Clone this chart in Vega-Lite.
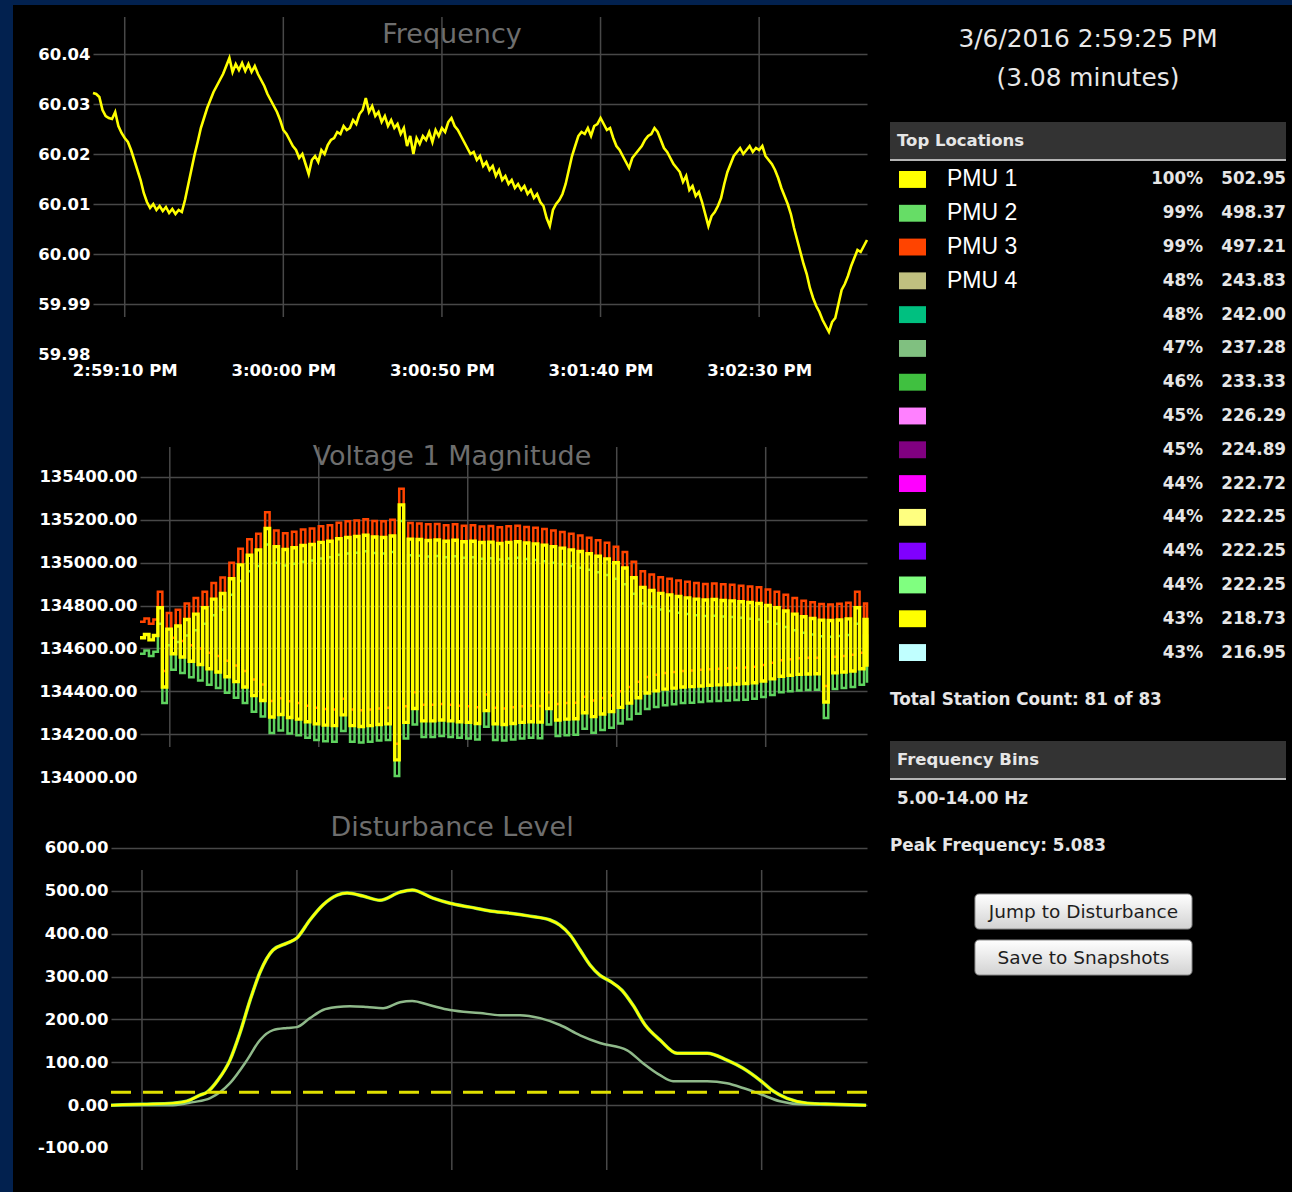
{
  "$schema": "https://vega.github.io/schema/vega-lite/v6.json",
  "background": "#000000",
  "padding": 0,
  "spacing": 0,
  "config": {
    "view": {"stroke": null},
    "axis": {"labelColor": "#ffffff", "labelFont": "DejaVu Sans", "labelFontSize": 16.5, "labelFontWeight": "bold", "domain": false, "ticks": false, "tickSize": 0, "gridColor": "#484848", "gridWidth": 1.5, "labelFlush": false, "labelOverlap": false},
    "title": {"color": "#6e6e6e", "font": "DejaVu Sans", "fontSize": 27, "fontWeight": "normal", "anchor": "middle", "frame": "group"}
  },
  "vconcat": [
    {"width": 1292, "height": 5, "view": {"fill": "#02214f"}, "data": {"values": [{}]}, "mark": {"type": "rect", "color": "#02214f"}, "encoding": {}},
    {"spacing": 0, "hconcat": [
      {"width": 13, "height": 1187, "view": {"fill": "#02214f"}, "data": {"values": [{}]}, "mark": {"type": "rect", "color": "#02214f"}, "encoding": {}},
      {"spacing": 15, "hconcat": [
        {"spacing": 0, "vconcat": [
          {"spacing": 0, "hconcat": [
          {"width": 17, "height": 1, "data": {"values": [{}]}, "mark": {"type": "rect", "color": "#000000"}, "encoding": {}},
          {"width": 774, "height": 395,
           "title": {"text": "Frequency", "offset": -44, "dx": -28},
           "layer": [
             {"data": {"values": [{"s": 10}, {"s": 60}, {"s": 110}, {"s": 160}, {"s": 210}]},
              "mark": {"type": "rule", "color": "#484848", "strokeWidth": 1.5},
              "encoding": {
                "x": {"field": "s", "type": "quantitative", "title": null, "scale": {"domain": [0, 244], "nice": false, "zero": false},
                      "axis": {"values": [10, 60, 110, 160, 210], "labelExpr": "timeFormat(datetime(2016, 2, 6, 14, 59, datum.value), '%-I:%M:%S %p')", "grid": false, "offset": -46, "labelPadding": 8, "title": null}},
                "y": {"datum": 59.9874, "type": "quantitative", "title": null, "scale": {"domain": [59.9708, 60.0498], "nice": false, "zero": false},
                      "axis": {"values": [59.98, 59.99, 60, 60.01, 60.02, 60.03, 60.04], "format": ".2f", "grid": true, "gridOpacity": {"condition": {"test": "datum.value < 59.985", "value": 0}, "value": 1}, "labelPadding": 3, "minExtent": 63, "title": null}},
                "y2": {"datum": 60.0474}
              }},
             {"data": {"values": [
               {"s":0,"f":60.0322},{"s":1,"f":60.032},{"s":2,"f":60.0314},{"s":3,"f":60.0288},{"s":4,"f":60.0276},{"s":5,"f":60.0272},{"s":6,"f":60.027},{"s":7,"f":60.0284},{"s":8,"f":60.0256},{"s":9,"f":60.0242},
               {"s":10,"f":60.0232},{"s":11,"f":60.0224},{"s":12,"f":60.0208},{"s":13,"f":60.0188},{"s":14,"f":60.0168},{"s":15,"f":60.0148},{"s":16,"f":60.0122},{"s":17,"f":60.0104},{"s":18,"f":60.0092},{"s":19,"f":60.01},
               {"s":20,"f":60.0088},{"s":21,"f":60.0096},{"s":22,"f":60.0086},{"s":23,"f":60.0094},{"s":24,"f":60.0082},{"s":25,"f":60.009},{"s":26,"f":60.008},{"s":27,"f":60.0088},{"s":28,"f":60.0084},{"s":29,"f":60.0108},
               {"s":30,"f":60.0138},{"s":31,"f":60.0168},{"s":32,"f":60.0198},{"s":33,"f":60.0224},{"s":34,"f":60.0252},{"s":35,"f":60.0272},{"s":36,"f":60.0292},{"s":37,"f":60.0308},{"s":38,"f":60.0324},{"s":39,"f":60.0336},
               {"s":40,"f":60.0348},{"s":41,"f":60.036},{"s":42,"f":60.0376},{"s":43,"f":60.0392},{"s":44,"f":60.0364},{"s":45,"f":60.038},{"s":46,"f":60.0368},{"s":47,"f":60.0382},{"s":48,"f":60.0366},{"s":49,"f":60.038},
               {"s":50,"f":60.0364},{"s":51,"f":60.0376},{"s":52,"f":60.036},{"s":53,"f":60.0348},{"s":54,"f":60.0336},{"s":55,"f":60.032},{"s":56,"f":60.0308},{"s":57,"f":60.0296},{"s":58,"f":60.0284},{"s":59,"f":60.0268},
               {"s":60,"f":60.0248},{"s":61,"f":60.024},{"s":62,"f":60.0228},{"s":63,"f":60.0216},{"s":64,"f":60.0208},{"s":65,"f":60.0192},{"s":66,"f":60.02},{"s":67,"f":60.018},{"s":68,"f":60.016},{"s":69,"f":60.0188},
               {"s":70,"f":60.0196},{"s":71,"f":60.0184},{"s":72,"f":60.0208},{"s":73,"f":60.02},{"s":74,"f":60.0218},{"s":75,"f":60.0228},{"s":76,"f":60.0232},{"s":77,"f":60.0244},{"s":78,"f":60.024},{"s":79,"f":60.0256},
               {"s":80,"f":60.0248},{"s":81,"f":60.0252},{"s":82,"f":60.0268},{"s":83,"f":60.026},{"s":84,"f":60.028},{"s":85,"f":60.0288},{"s":86,"f":60.0312},{"s":87,"f":60.0284},{"s":88,"f":60.0296},{"s":89,"f":60.0276},
               {"s":90,"f":60.0284},{"s":91,"f":60.0264},{"s":92,"f":60.0276},{"s":93,"f":60.0256},{"s":94,"f":60.0268},{"s":95,"f":60.0252},{"s":96,"f":60.026},{"s":97,"f":60.024},{"s":98,"f":60.0252},{"s":99,"f":60.0216},
               {"s":100,"f":60.0236},{"s":101,"f":60.02},{"s":102,"f":60.0232},{"s":103,"f":60.022},{"s":104,"f":60.0236},{"s":105,"f":60.0228},{"s":106,"f":60.0244},{"s":107,"f":60.0224},{"s":108,"f":60.0248},{"s":109,"f":60.0236},
               {"s":110,"f":60.0252},{"s":111,"f":60.0244},{"s":112,"f":60.0264},{"s":113,"f":60.0272},{"s":114,"f":60.0256},{"s":115,"f":60.0248},{"s":116,"f":60.0236},{"s":117,"f":60.0224},{"s":118,"f":60.0212},{"s":119,"f":60.02},
               {"s":120,"f":60.0204},{"s":121,"f":60.0188},{"s":122,"f":60.0196},{"s":123,"f":60.0176},{"s":124,"f":60.0184},{"s":125,"f":60.0168},{"s":126,"f":60.0176},{"s":127,"f":60.0156},{"s":128,"f":60.0168},{"s":129,"f":60.0148},
               {"s":130,"f":60.0156},{"s":131,"f":60.014},{"s":132,"f":60.0148},{"s":133,"f":60.0132},{"s":134,"f":60.014},{"s":135,"f":60.0128},{"s":136,"f":60.0136},{"s":137,"f":60.012},{"s":138,"f":60.0128},{"s":139,"f":60.0112},
               {"s":140,"f":60.012},{"s":141,"f":60.0104},{"s":142,"f":60.0096},{"s":143,"f":60.0072},{"s":144,"f":60.0056},{"s":145,"f":60.0088},{"s":146,"f":60.01},{"s":147,"f":60.0108},{"s":148,"f":60.012},{"s":149,"f":60.014},
               {"s":150,"f":60.0168},{"s":151,"f":60.0196},{"s":152,"f":60.0216},{"s":153,"f":60.0236},{"s":154,"f":60.0244},{"s":155,"f":60.024},{"s":156,"f":60.0252},{"s":157,"f":60.0236},{"s":158,"f":60.0256},{"s":159,"f":60.026},
               {"s":160,"f":60.0272},{"s":161,"f":60.026},{"s":162,"f":60.0248},{"s":163,"f":60.0252},{"s":164,"f":60.0232},{"s":165,"f":60.0216},{"s":166,"f":60.0208},{"s":167,"f":60.0196},{"s":168,"f":60.0184},{"s":169,"f":60.0172},
               {"s":170,"f":60.0192},{"s":171,"f":60.02},{"s":172,"f":60.0208},{"s":173,"f":60.0216},{"s":174,"f":60.0228},{"s":175,"f":60.0236},{"s":176,"f":60.024},{"s":177,"f":60.0252},{"s":178,"f":60.0244},{"s":179,"f":60.0228},
               {"s":180,"f":60.0212},{"s":181,"f":60.0204},{"s":182,"f":60.0192},{"s":183,"f":60.018},{"s":184,"f":60.0172},{"s":185,"f":60.0164},{"s":186,"f":60.0144},{"s":187,"f":60.0156},{"s":188,"f":60.0128},{"s":189,"f":60.0136},
               {"s":190,"f":60.0116},{"s":191,"f":60.0124},{"s":192,"f":60.0104},{"s":193,"f":60.008},{"s":194,"f":60.0056},{"s":195,"f":60.0076},{"s":196,"f":60.0084},{"s":197,"f":60.0096},{"s":198,"f":60.0112},{"s":199,"f":60.014},
               {"s":200,"f":60.0164},{"s":201,"f":60.018},{"s":202,"f":60.0196},{"s":203,"f":60.0204},{"s":204,"f":60.0212},{"s":205,"f":60.02},{"s":206,"f":60.0208},{"s":207,"f":60.0216},{"s":208,"f":60.0204},{"s":209,"f":60.0212},
               {"s":210,"f":60.0208},{"s":211,"f":60.0216},{"s":212,"f":60.0196},{"s":213,"f":60.0188},{"s":214,"f":60.018},{"s":215,"f":60.0168},{"s":216,"f":60.0152},{"s":217,"f":60.0132},{"s":218,"f":60.0116},{"s":219,"f":60.01},
               {"s":220,"f":60.008},{"s":221,"f":60.0052},{"s":222,"f":60.0028},{"s":223,"f":60.0004},{"s":224,"f":59.998},{"s":225,"f":59.996},{"s":226,"f":59.9932},{"s":227,"f":59.9912},{"s":228,"f":59.9896},{"s":229,"f":59.9884},
               {"s":230,"f":59.9868},{"s":231,"f":59.9856},{"s":232,"f":59.9844},{"s":233,"f":59.9864},{"s":234,"f":59.9872},{"s":235,"f":59.99},{"s":236,"f":59.9928},{"s":237,"f":59.994},{"s":238,"f":59.9956},{"s":239,"f":59.9976},
               {"s":240,"f":59.9992},{"s":241,"f":60.0008},{"s":242,"f":60.0004},{"s":243,"f":60.0016},{"s":244,"f":60.0028}
             ]},
              "mark": {"type": "line", "color": "#ffff00", "strokeWidth": 2.6},
              "encoding": {"x": {"field": "s", "type": "quantitative", "title": null}, "y": {"field": "f", "type": "quantitative", "title": null}}}
           ]}]},
          {"spacing": 0, "hconcat": [
          {"width": 17, "height": 1, "data": {"values": [{}]}, "mark": {"type": "rect", "color": "#000000"}, "encoding": {}},
          {"width": 727, "height": 400,
           "title": {"text": "Voltage 1 Magnitude", "offset": -70.75, "dx": -51.5},
           "layer": [
             {"data": {"values": [{"s": 10}, {"s": 60}, {"s": 110}, {"s": 160}, {"s": 210}]},
              "mark": {"type": "rule", "color": "#484848", "strokeWidth": 1.5},
              "encoding": {
                "x": {"field": "s", "type": "quantitative", "title": null, "scale": {"domain": [0, 244], "nice": false, "zero": false}, "axis": null},
                "y": {"datum": 134140, "type": "quantitative", "title": null, "scale": {"domain": [133892.7, 135759.3], "nice": false, "zero": false},
                      "axis": {"values": [134000, 134200, 134400, 134600, 134800, 135000, 135200, 135400], "format": ".2f", "grid": true, "gridOpacity": {"condition": {"test": "datum.value < 134100", "value": 0}, "value": 1}, "labelPadding": 3, "minExtent": 110, "title": null}},
                "y2": {"datum": 135540}
              }},
             {"data": {"name": "volt"}, "mark": {"type": "line", "color": "#ff4400", "strokeWidth": 2.5, "interpolate": "step-after"},
              "encoding": {"x": {"field": "s", "type": "quantitative", "title": null}, "y": {"field": "r", "type": "quantitative", "title": null}}},
             {"data": {"name": "volt"}, "mark": {"type": "line", "color": "#5fd35f", "strokeWidth": 2.5, "interpolate": "step-after"},
              "encoding": {"x": {"field": "s", "type": "quantitative", "title": null}, "y": {"field": "g", "type": "quantitative", "title": null}}},
             {"data": {"name": "volt"}, "mark": {"type": "line", "color": "#ffff00", "strokeWidth": 3.4, "interpolate": "step-after"},
              "encoding": {"x": {"field": "s", "type": "quantitative", "title": null}, "y": {"field": "y", "type": "quantitative", "title": null}}}
           ]}]},
          {"spacing": 0, "hconcat": [
          {"width": 17, "height": 1, "data": {"values": [{}]}, "mark": {"type": "rect", "color": "#000000"}, "encoding": {}},
          {"width": 756, "height": 392,
           "title": {"text": "Disturbance Level", "offset": -41.75, "dx": -37},
           "layer": [
             {"data": {"values": [{"s": 10}, {"s": 60}, {"s": 110}, {"s": 160}, {"s": 210}]},
              "mark": {"type": "rule", "color": "#484848", "strokeWidth": 1.5},
              "encoding": {
                "x": {"field": "s", "type": "quantitative", "title": null, "scale": {"domain": [0, 244], "nice": false, "zero": false}, "axis": null},
                "y": {"datum": -151.33, "type": "quantitative", "title": null, "scale": {"domain": [-202.67, 712], "nice": false, "zero": false},
                      "axis": {"values": [-100, 0, 100, 200, 300, 400, 500, 600], "labelExpr": "(datum.value < 0 ? '-' : '') + format(abs(datum.value), '.2f')", "grid": true, "gridOpacity": {"condition": {"test": "datum.value < -50", "value": 0}, "value": 1}, "labelPadding": 3, "minExtent": 81, "title": null}},
                "y2": {"datum": 548.67}
              }},
             {"data": {"name": "distLo"}, "mark": {"type": "line", "color": "#8fb98a", "strokeWidth": 2.5, "interpolate": "monotone"},
              "encoding": {"x": {"field": "s", "type": "quantitative", "title": null}, "y": {"field": "v", "type": "quantitative", "title": null}}},
             {"data": {"name": "distHi"}, "mark": {"type": "line", "color": "#66dd66", "strokeWidth": 3.5, "interpolate": "monotone"},
              "encoding": {"x": {"field": "s", "type": "quantitative", "title": null}, "y": {"field": "v", "type": "quantitative", "title": null}}},
             {"data": {"name": "distHi"}, "mark": {"type": "line", "color": "#ffff00", "strokeWidth": 2.5, "interpolate": "monotone"},
              "encoding": {"x": {"field": "s", "type": "quantitative", "title": null}, "y": {"field": "v", "type": "quantitative", "title": null}}},
             {"data": {"values": [{"thr": 30.3}]}, "mark": {"type": "rule", "color": "#e0e000", "strokeWidth": 3, "strokeDash": [20, 12]},
              "encoding": {"y": {"field": "thr", "type": "quantitative", "title": null}}}
           ]}]}
        ]},
        {"spacing": 0, "vconcat": [
          {"width": 396, "height": 117,
           "data": {"values": [{"n": 1, "line": "3/6/2016 2:59:25 PM"}, {"n": 2, "line": "(3.08 minutes)"}]},
           "mark": {"type": "text", "font": "DejaVu Sans", "fontSize": 24.8, "color": "#e8e8e8", "baseline": "middle", "align": "center"},
           "encoding": {"y": {"field": "n", "type": "ordinal", "scale": {"type": "point", "padding": 1.125, "align": 0.45}, "axis": null}, "text": {"field": "line"}}},
          {"width": 396, "height": 38, "view": {"fill": "#333333"},
           "data": {"values": [{"h": "Top Locations"}]},
           "layer": [
             {"mark": {"type": "rule", "color": "#b4b4b4", "strokeWidth": 2},
              "encoding": {"y": {"datum": 0, "type": "quantitative", "scale": {"domain": [0, 1]}, "axis": null}}},
             {"mark": {"type": "text", "align": "left", "baseline": "middle", "font": "DejaVu Sans", "fontSize": 16.5, "fontWeight": "bold", "color": "#e6e6e6"},
              "encoding": {"x": {"datum": 1.77, "type": "quantitative", "scale": {"domain": [0, 100]}, "axis": null}, "y": {"datum": 0.5, "type": "quantitative"}, "text": {"field": "h"}}}
           ]},
          {"width": 396, "height": 510,
           "data": {"values": [
             {"rank": 1, "name": "PMU 1", "pct": 1.00, "val": 502.95},
             {"rank": 2, "name": "PMU 2", "pct": 0.99, "val": 498.37},
             {"rank": 3, "name": "PMU 3", "pct": 0.99, "val": 497.21},
             {"rank": 4, "name": "PMU 4", "pct": 0.48, "val": 243.83},
             {"rank": 5, "name": "", "pct": 0.48, "val": 242.00},
             {"rank": 6, "name": "", "pct": 0.47, "val": 237.28},
             {"rank": 7, "name": "", "pct": 0.46, "val": 233.33},
             {"rank": 8, "name": "", "pct": 0.45, "val": 226.29},
             {"rank": 9, "name": "", "pct": 0.45, "val": 224.89},
             {"rank": 10, "name": "", "pct": 0.44, "val": 222.72},
             {"rank": 11, "name": "", "pct": 0.44, "val": 222.25},
             {"rank": 12, "name": "", "pct": 0.44, "val": 222.25},
             {"rank": 13, "name": "", "pct": 0.44, "val": 222.25},
             {"rank": 14, "name": "", "pct": 0.43, "val": 218.73},
             {"rank": 15, "name": "", "pct": 0.43, "val": 216.95}
           ]},
           "encoding": {"y": {"field": "rank", "type": "ordinal", "scale": {"type": "band", "paddingInner": 0.5, "paddingOuter": 0.2966, "align": 0.5}, "axis": null}},
           "layer": [
             {"mark": {"type": "rect"},
              "encoding": {"x": {"datum": 2.27, "type": "quantitative", "scale": {"domain": [0, 100]}, "axis": null}, "x2": {"datum": 9.09},
                           "color": {"field": "rank", "type": "ordinal", "legend": null, "scale": {"domain": [1,2,3,4,5,6,7,8,9,10,11,12,13,14,15], "range": ["#ffff00","#66dd66","#ff4400","#c0c080","#00c080","#80c080","#40c040","#ff80ff","#800080","#ff00ff","#ffff80","#8000ff","#80ff80","#ffff00","#c0ffff"]}}}},
             {"mark": {"type": "text", "align": "left", "baseline": "middle", "font": "Liberation Sans", "fontSize": 23, "color": "#ffffff"},
              "encoding": {"x": {"datum": 14.39, "type": "quantitative"}, "text": {"field": "name"}}},
             {"mark": {"type": "text", "align": "right", "baseline": "middle", "font": "DejaVu Sans", "fontSize": 16.8, "fontWeight": "bold", "color": "#e6e6e6"},
              "encoding": {"x": {"datum": 79.04, "type": "quantitative"}, "text": {"field": "pct", "type": "quantitative", "format": ".0%"}}},
             {"mark": {"type": "text", "align": "right", "baseline": "middle", "font": "DejaVu Sans", "fontSize": 16.8, "fontWeight": "bold", "color": "#e6e6e6"},
              "encoding": {"x": {"datum": 100, "type": "quantitative"}, "text": {"field": "val", "type": "quantitative", "format": ".2f"}}}
           ]},
          {"width": 396, "height": 70,
           "data": {"values": [{"t": "Total Station Count: 81 of 83"}]},
           "mark": {"type": "text", "align": "left", "baseline": "middle", "font": "DejaVu Sans", "fontSize": 16.8, "fontWeight": "bold", "color": "#e6e6e6"},
           "encoding": {"x": {"datum": 0, "type": "quantitative", "scale": {"domain": [0, 100]}, "axis": null}, "y": {"field": "t", "type": "nominal", "scale": {"type": "point", "align": 0.414}, "axis": null}, "text": {"field": "t"}}},
          {"width": 396, "height": 38, "view": {"fill": "#333333"},
           "data": {"values": [{"h": "Frequency Bins"}]},
           "layer": [
             {"mark": {"type": "rule", "color": "#b4b4b4", "strokeWidth": 2},
              "encoding": {"y": {"datum": 0, "type": "quantitative", "scale": {"domain": [0, 1]}, "axis": null}}},
             {"mark": {"type": "text", "align": "left", "baseline": "middle", "font": "DejaVu Sans", "fontSize": 16.5, "fontWeight": "bold", "color": "#e6e6e6"},
              "encoding": {"x": {"datum": 1.77, "type": "quantitative", "scale": {"domain": [0, 100]}, "axis": null}, "y": {"datum": 0.5, "type": "quantitative"}, "text": {"field": "h"}}}
           ]},
          {"width": 396, "height": 102,
           "data": {"values": [{"k": "bins", "t": "5.00-14.00 Hz"}, {"k": "peak", "t": "Peak Frequency: 5.083"}]},
           "encoding": {"y": {"field": "k", "type": "nominal", "scale": {"type": "point", "padding": 0.585, "align": 0.345}, "axis": null}},
           "layer": [
             {"transform": [{"filter": "datum.k == 'bins'"}],
              "mark": {"type": "text", "align": "left", "baseline": "middle", "font": "DejaVu Sans", "fontSize": 16.8, "fontWeight": "bold", "color": "#e6e6e6"},
              "encoding": {"x": {"datum": 1.77, "type": "quantitative", "scale": {"domain": [0, 100]}, "axis": null}, "text": {"field": "t"}}},
             {"transform": [{"filter": "datum.k == 'peak'"}],
              "mark": {"type": "text", "align": "left", "baseline": "middle", "font": "DejaVu Sans", "fontSize": 16.8, "fontWeight": "bold", "color": "#e6e6e6"},
              "encoding": {"x": {"datum": 0, "type": "quantitative"}, "text": {"field": "t"}}}
           ]},
          {"width": 396, "height": 100,
           "data": {"values": [{"b": "Jump to Disturbance"}, {"b": "Save to Snapshots"}]},
           "encoding": {"y": {"field": "b", "type": "nominal", "scale": {"type": "band", "paddingInner": 0.239, "paddingOuter": 0.2065, "align": 0.632}, "axis": null}},
           "layer": [
             {"mark": {"type": "rect", "cornerRadius": 4, "stroke": "#8a8a8a", "strokeWidth": 1,
                       "fill": {"x1": 0, "y1": 0, "x2": 0, "y2": 1, "gradient": "linear", "stops": [{"offset": 0, "color": "#ffffff"}, {"offset": 1, "color": "#d2d2d2"}]}},
              "encoding": {"x": {"datum": 21.46, "type": "quantitative", "scale": {"domain": [0, 100]}, "axis": null}, "x2": {"datum": 76.26}}},
             {"mark": {"type": "text", "align": "center", "baseline": "middle", "font": "DejaVu Sans", "fontSize": 18.5, "color": "#1e1e1e"},
              "encoding": {"x": {"datum": 48.86, "type": "quantitative"}, "text": {"field": "b"}}}
           ]}
        ]}
      ]}
    ]}
  ],
  "datasets": {
    "volt": [
      {"s":0,"y":134650,"r":134725,"g":134575},{"s":1.5,"y":134665,"r":134740,"g":134590},{"s":3,"y":134640,"r":134715,"g":134565},{"s":4.5,"y":134660,"r":134735,"g":134585},
      {"s":6,"y":134790,"r":134865,"g":134715},{"s":7.5,"y":134420,"r":134495,"g":134345},{"s":9,"y":134690,"r":134765,"g":134615},{"s":10.5,"y":134575,"r":134650,"g":134500},
      {"s":12,"y":134705,"r":134780,"g":134630},{"s":13.5,"y":134560,"r":134635,"g":134485},{"s":15,"y":134735,"r":134810,"g":134660},{"s":16.5,"y":134540,"r":134615,"g":134465},
      {"s":18,"y":134760,"r":134835,"g":134685},{"s":19.5,"y":134525,"r":134600,"g":134450},{"s":21,"y":134790,"r":134865,"g":134715},{"s":22.5,"y":134505,"r":134580,"g":134430},
      {"s":24,"y":134830,"r":134905,"g":134755},{"s":25.5,"y":134490,"r":134565,"g":134415},{"s":27,"y":134856,"r":134931,"g":134781},{"s":28.5,"y":134468,"r":134543,"g":134393},
      {"s":30,"y":134925,"r":135000,"g":134850},{"s":31.5,"y":134445,"r":134520,"g":134370},{"s":33,"y":134990,"r":135065,"g":134915},{"s":34.5,"y":134420,"r":134495,"g":134345},
      {"s":36,"y":135035,"r":135110,"g":134960},{"s":37.5,"y":134380,"r":134455,"g":134305},{"s":39,"y":135060,"r":135135,"g":134985},{"s":40.5,"y":134357,"r":134432,"g":134282},
      {"s":42,"y":135160,"r":135235,"g":135085},{"s":43.5,"y":134280,"r":134355,"g":134205},{"s":45,"y":135075,"r":135150,"g":135000},{"s":46.5,"y":134292,"r":134367,"g":134217},
      {"s":48,"y":135062,"r":135137,"g":134987},{"s":49.5,"y":134278,"r":134353,"g":134203},{"s":51,"y":135070,"r":135145,"g":134995},{"s":52.5,"y":134270,"r":134345,"g":134195},
      {"s":54,"y":135080,"r":135155,"g":135005},{"s":55.5,"y":134258,"r":134333,"g":134183},{"s":57,"y":135085,"r":135160,"g":135010},{"s":58.5,"y":134248,"r":134323,"g":134173},
      {"s":60,"y":135095,"r":135170,"g":135020},{"s":61.5,"y":134242,"r":134317,"g":134167},{"s":63,"y":135100,"r":135175,"g":135025},{"s":64.5,"y":134240,"r":134315,"g":134165},
      {"s":66,"y":135112,"r":135187,"g":135037},{"s":67.5,"y":134290,"r":134365,"g":134215},{"s":69,"y":135118,"r":135193,"g":135043},{"s":70.5,"y":134240,"r":134315,"g":134165},
      {"s":72,"y":135122,"r":135197,"g":135047},{"s":73.5,"y":134236,"r":134311,"g":134161},{"s":75,"y":135128,"r":135203,"g":135053},{"s":76.5,"y":134240,"r":134315,"g":134165},
      {"s":78,"y":135120,"r":135195,"g":135045},{"s":79.5,"y":134245,"r":134320,"g":134170},{"s":81,"y":135118,"r":135193,"g":135043},{"s":82.5,"y":134248,"r":134323,"g":134173},
      {"s":84,"y":135125,"r":135200,"g":135050},{"s":85.5,"y":134080,"r":134155,"g":134005},{"s":87,"y":135270,"r":135345,"g":135195},{"s":88.5,"y":134255,"r":134330,"g":134180},
      {"s":90,"y":135110,"r":135185,"g":135035},{"s":91.5,"y":134320,"r":134395,"g":134245},{"s":93,"y":135108,"r":135183,"g":135033},{"s":94.5,"y":134262,"r":134337,"g":134187},
      {"s":96,"y":135104,"r":135179,"g":135029},{"s":97.5,"y":134262,"r":134337,"g":134187},{"s":99,"y":135106,"r":135181,"g":135031},{"s":100.5,"y":134266,"r":134341,"g":134191},
      {"s":102,"y":135100,"r":135175,"g":135025},{"s":103.5,"y":134262,"r":134337,"g":134187},{"s":105,"y":135105,"r":135180,"g":135030},{"s":106.5,"y":134258,"r":134333,"g":134183},
      {"s":108,"y":135098,"r":135173,"g":135023},{"s":109.5,"y":134255,"r":134330,"g":134180},{"s":111,"y":135100,"r":135175,"g":135025},{"s":112.5,"y":134250,"r":134325,"g":134175},
      {"s":114,"y":135094,"r":135169,"g":135019},{"s":115.5,"y":134310,"r":134385,"g":134235},{"s":117,"y":135096,"r":135171,"g":135021},{"s":118.5,"y":134248,"r":134323,"g":134173},
      {"s":120,"y":135090,"r":135165,"g":135015},{"s":121.5,"y":134245,"r":134320,"g":134170},{"s":123,"y":135095,"r":135170,"g":135020},{"s":124.5,"y":134250,"r":134325,"g":134175},
      {"s":126,"y":135098,"r":135173,"g":135023},{"s":127.5,"y":134255,"r":134330,"g":134180},{"s":129,"y":135092,"r":135167,"g":135017},{"s":130.5,"y":134258,"r":134333,"g":134183},
      {"s":132,"y":135088,"r":135163,"g":135013},{"s":133.5,"y":134256,"r":134331,"g":134181},{"s":135,"y":135082,"r":135157,"g":135007},{"s":136.5,"y":134320,"r":134395,"g":134245},
      {"s":138,"y":135075,"r":135150,"g":135000},{"s":139.5,"y":134266,"r":134341,"g":134191},{"s":141,"y":135068,"r":135143,"g":134993},{"s":142.5,"y":134270,"r":134345,"g":134195},
      {"s":144,"y":135060,"r":135135,"g":134985},{"s":145.5,"y":134272,"r":134347,"g":134197},{"s":147,"y":135052,"r":135127,"g":134977},{"s":148.5,"y":134300,"r":134375,"g":134225},
      {"s":150,"y":135042,"r":135117,"g":134967},{"s":151.5,"y":134282,"r":134357,"g":134207},{"s":153,"y":135030,"r":135105,"g":134955},{"s":154.5,"y":134294,"r":134369,"g":134219},
      {"s":156,"y":135018,"r":135093,"g":134943},{"s":157.5,"y":134305,"r":134380,"g":134230},{"s":159,"y":135000,"r":135075,"g":134925},{"s":160.5,"y":134325,"r":134400,"g":134250},
      {"s":162,"y":134975,"r":135050,"g":134900},{"s":163.5,"y":134345,"r":134420,"g":134270},{"s":165,"y":134930,"r":135005,"g":134855},{"s":166.5,"y":134370,"r":134445,"g":134295},
      {"s":168,"y":134885,"r":134960,"g":134810},{"s":169.5,"y":134392,"r":134467,"g":134317},{"s":171,"y":134870,"r":134945,"g":134795},{"s":172.5,"y":134402,"r":134477,"g":134327},
      {"s":174,"y":134857,"r":134932,"g":134782},{"s":175.5,"y":134410,"r":134485,"g":134335},{"s":177,"y":134850,"r":134925,"g":134775},{"s":178.5,"y":134415,"r":134490,"g":134340},
      {"s":180,"y":134842,"r":134917,"g":134767},{"s":181.5,"y":134420,"r":134495,"g":134345},{"s":183,"y":134836,"r":134911,"g":134761},{"s":184.5,"y":134422,"r":134497,"g":134347},
      {"s":186,"y":134830,"r":134905,"g":134755},{"s":187.5,"y":134425,"r":134500,"g":134350},{"s":189,"y":134826,"r":134901,"g":134751},{"s":190.5,"y":134428,"r":134503,"g":134353},
      {"s":192,"y":134828,"r":134903,"g":134753},{"s":193.5,"y":134430,"r":134505,"g":134355},{"s":195,"y":134824,"r":134899,"g":134749},{"s":196.5,"y":134432,"r":134507,"g":134357},
      {"s":198,"y":134822,"r":134897,"g":134747},{"s":199.5,"y":134434,"r":134509,"g":134359},{"s":201,"y":134818,"r":134893,"g":134743},{"s":202.5,"y":134436,"r":134511,"g":134361},
      {"s":204,"y":134814,"r":134889,"g":134739},{"s":205.5,"y":134440,"r":134515,"g":134365},{"s":207,"y":134810,"r":134885,"g":134735},{"s":208.5,"y":134448,"r":134523,"g":134373},
      {"s":210,"y":134800,"r":134875,"g":134725},{"s":211.5,"y":134458,"r":134533,"g":134383},{"s":213,"y":134790,"r":134865,"g":134715},{"s":214.5,"y":134470,"r":134545,"g":134395},
      {"s":216,"y":134775,"r":134850,"g":134700},{"s":217.5,"y":134475,"r":134550,"g":134400},{"s":219,"y":134760,"r":134835,"g":134685},{"s":220.5,"y":134479,"r":134554,"g":134404},
      {"s":222,"y":134748,"r":134823,"g":134673},{"s":223.5,"y":134481,"r":134556,"g":134406},{"s":225,"y":134740,"r":134815,"g":134665},{"s":226.5,"y":134482,"r":134557,"g":134407},
      {"s":228,"y":134732,"r":134807,"g":134657},{"s":229.5,"y":134350,"r":134425,"g":134275},{"s":231,"y":134730,"r":134805,"g":134655},{"s":232.5,"y":134486,"r":134561,"g":134411},
      {"s":234,"y":134733,"r":134808,"g":134658},{"s":235.5,"y":134490,"r":134565,"g":134415},{"s":237,"y":134738,"r":134813,"g":134663},{"s":238.5,"y":134495,"r":134570,"g":134420},
      {"s":240,"y":134790,"r":134865,"g":134715},{"s":241.5,"y":134505,"r":134580,"g":134430},{"s":243,"y":134735,"r":134810,"g":134660},{"s":244,"y":134515,"r":134590,"g":134440}
    ],
    "distHi": [
      {"s":0,"v":0},{"s":10.3,"v":2.3},{"s":20,"v":4.7},{"s":24.5,"v":9.3},{"s":28.7,"v":23.3},{"s":31,"v":30.3},{"s":34.5,"v":58.3},{"s":38.4,"v":105},{"s":41.6,"v":168},{"s":44.9,"v":245},
      {"s":48.1,"v":310},{"s":52.3,"v":362},{"s":56.8,"v":378},{"s":60,"v":390},{"s":64.2,"v":432},{"s":68.4,"v":467},{"s":73,"v":490},{"s":76.2,"v":495},{"s":81.3,"v":488},{"s":86.8,"v":478},
      {"s":93.3,"v":497},{"s":97.2,"v":502},{"s":103.9,"v":483},{"s":109.4,"v":471},{"s":115.9,"v":462},{"s":122.3,"v":453},{"s":128.8,"v":448},{"s":135.2,"v":441},{"s":141.7,"v":432},{"s":144.9,"v":420},
      {"s":148.2,"v":397},{"s":151.4,"v":362},{"s":154.6,"v":327},{"s":157.8,"v":303},{"s":161.1,"v":289},{"s":164.9,"v":268},{"s":168.5,"v":233},{"s":172.4,"v":187},{"s":177.2,"v":152},{"s":182.7,"v":121},
      {"s":190.2,"v":121},{"s":192.4,"v":121},{"s":198.8,"v":105},{"s":204,"v":86},{"s":209.5,"v":58},{"s":213.7,"v":33},{"s":218.2,"v":16},{"s":224.7,"v":4.7},{"s":233.1,"v":2.3},{"s":243.7,"v":0}
    ],
    "distLo": [
      {"s":0,"v":0},{"s":20,"v":0},{"s":26.5,"v":7},{"s":32,"v":16.3},{"s":38.4,"v":51.3},{"s":43.9,"v":105},{"s":48.1,"v":152},{"s":52.3,"v":175},{"s":56.8,"v":180},{"s":60,"v":182},
      {"s":64.2,"v":203},{"s":68.4,"v":222},{"s":73,"v":229},{"s":77.1,"v":231},{"s":82.6,"v":229},{"s":87.8,"v":226},{"s":93.3,"v":240},{"s":97.2,"v":243},{"s":103,"v":233},{"s":109.4,"v":222},
      {"s":119.1,"v":215},{"s":125.6,"v":210},{"s":132,"v":210},{"s":138.5,"v":203},{"s":144.9,"v":187},{"s":151.4,"v":163},{"s":157.8,"v":145},{"s":166.6,"v":128},{"s":171.7,"v":98},{"s":177.2,"v":70},
      {"s":181.4,"v":56},{"s":192.4,"v":56},{"s":198.8,"v":51},{"s":204,"v":40},{"s":209.5,"v":26},{"s":215.9,"v":9},{"s":222.4,"v":2.3},{"s":243.7,"v":0}
    ]
  }
}
